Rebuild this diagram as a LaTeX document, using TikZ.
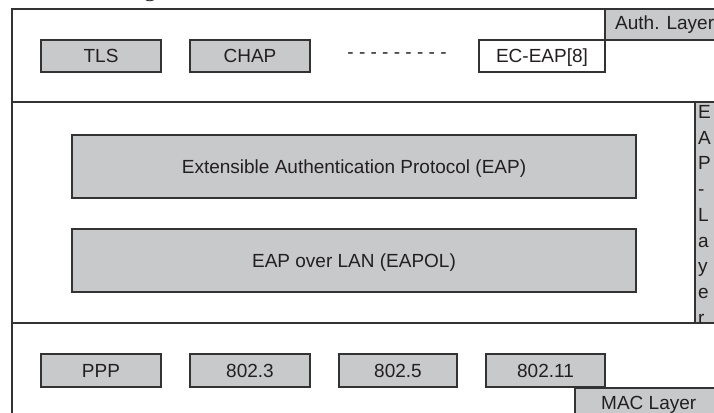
\documentclass[tikz,border=0pt]{standalone}
\usepackage{fontspec}
\setmainfont{Liberation Sans}
\newfontfamily\capfont{Liberation Serif}
\definecolor{lineC}{HTML}{333333}
\definecolor{fillC}{HTML}{C8C9CA}
\definecolor{textC}{HTML}{231F20}
\begin{document}
\begin{tikzpicture}[x=1pt,y=-1pt,
  frame/.style={draw=lineC,line width=1.3pt},
  proto/.style={draw=lineC,line width=1.3pt,fill=fillC,text=textC,
    font=\fontsize{19}{22}\selectfont,text height=13.6pt,text depth=0pt,
    inner sep=0pt,minimum height=32pt},
  lyr/.style={text=textC,font=\fontsize{19}{22}\selectfont,inner sep=0pt,anchor=base west}]
\useasboundingbox (0,0) rectangle (714,412);
% caption fragment
\node[text=textC,font=\capfont\fontsize{24}{28}\selectfont,anchor=base,inner sep=0pt] (capg) at (150,-3) {g};
% layer label fills
\fill[fillC] (605,9) rectangle (720,40);
\fill[fillC] (695,102) rectangle (720,323);
\fill[fillC] (575,388) rectangle (720,420);
% frame lines
\draw[frame] (605,9) -- (12,9) -- (12,420);
\draw[frame] (12,102) -- (695,102);
\draw[frame] (12,323) -- (695,323);
% layer labels
\draw[frame] (720,9) -- (605,9) -- (605,40) -- (720,40);
\node[lyr] (auth) at (615,29.6) {Auth. Layer};
\draw[frame] (720,102) -- (695,102) -- (695,323) -- (720,323);
\begin{scope}
\clip (696,103) rectangle (714,322.3);
\foreach \c [count=\i from 0] in {E,A,P,-,L,a,y,e,r}
  \node[lyr] (v\i) at (698,118.5+25.7*\i) {\c};
\end{scope}
\draw[frame] (720,388) -- (575,388) -- (575,420);
\node[lyr] (mac) at (601,409) {MAC Layer};
% top row
\node[proto,minimum width=120pt] (tls) at (101,56) {TLS};
\node[proto,minimum width=120pt] (chap) at (250,56) {CHAP};
\node[text=textC,font=\fontsize{19}{22}\selectfont,inner sep=0pt] (dots) at (397,56) {- - - - - - - - -};
\node[proto,fill=white,minimum width=126pt] (ec) at (542,56) {EC-EAP[8]};
% middle
\node[proto,minimum width=564pt,minimum height=63pt] (eap) at (354,166.5) {Extensible Authentication Protocol (EAP)};
\node[proto,minimum width=564pt,minimum height=63pt] (eapol) at (354,260.5) {EAP over LAN (EAPOL)};
% bottom row
\node[proto,minimum width=120pt,minimum height=33pt] (ppp) at (101,370.5) {PPP};
\node[proto,minimum width=120pt,minimum height=33pt] (e3) at (250,370.5) {802.3};
\node[proto,minimum width=118pt,minimum height=33pt] (e5) at (398,370.5) {802.5};
\node[proto,minimum width=119pt,minimum height=33pt] (e11) at (545.5,370.5) {802.11};
\end{tikzpicture}
\end{document}
